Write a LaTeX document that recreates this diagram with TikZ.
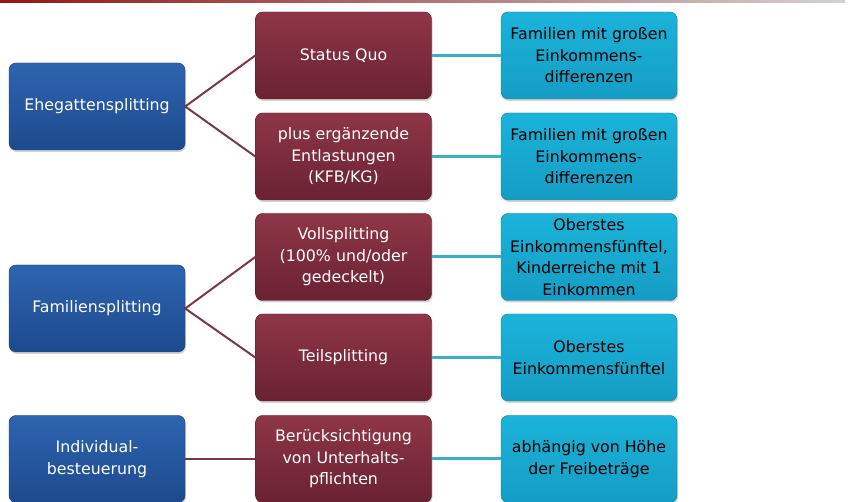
\documentclass[tikz,border=0pt]{standalone}
\usepackage{fontspec}
\setmainfont{DejaVu Sans}
\usetikzlibrary{shadows}
\definecolor{bluetop}{HTML}{2E64B0}
\definecolor{bluebot}{HTML}{1D4A8E}
\definecolor{redtop}{HTML}{8E3647}
\definecolor{redbot}{HTML}{6A2232}
\definecolor{cyantop}{HTML}{1BB3DA}
\definecolor{cyanbot}{HTML}{159DC4}
\definecolor{redline}{HTML}{7E3645}
\definecolor{cyanline}{HTML}{3AAECB}
\definecolor{topred}{HTML}{B01818}
\tikzset{
  box/.style={rounded corners=7pt, minimum width=176pt, minimum height=87pt, align=center,
    inner sep=2pt, font=\fontsize{15.8}{21.5}\selectfont,
    drop shadow={shadow xshift=1pt, shadow yshift=-2pt, opacity=0.35}},
  bluebox/.style={box, top color=bluetop, bottom color=bluebot, draw=bluebot!80!black, text=white},
  redbox/.style={box, top color=redtop, bottom color=redbot, draw=redbot!80!black, text=white},
  cyanbox/.style={box, top color=cyantop, bottom color=cyanbot, draw=cyanbot!80!black, text=black},
  rline/.style={draw=redline, line width=2pt},
  cline/.style={draw=cyanline, line width=3pt},
}
\begin{document}
\begin{tikzpicture}[x=1pt,y=-1pt]
\useasboundingbox (0,0) rectangle (852,502);
\shade[left color=topred!85!black, right color=gray!35] (0,0) rectangle (845,3);
% blue
\node[bluebox] (ehe) at (97,106.5) {Ehegattensplitting};
\node[bluebox] (fam) at (97,308.5) {Familiensplitting};
\node[bluebox] (ind) at (97,459) {Individual-\\besteuerung};
% red
\node[redbox] (sq) at (343.5,55.5) {Status Quo};
\node[redbox] (plus) at (343.5,156.5) {plus ergänzende\\Entlastungen\\(KFB/KG)};
\node[redbox] (voll) at (343.5,257) {Vollsplitting\\(100\% und/oder\\gedeckelt)};
\node[redbox] (teil) at (343.5,357.5) {Teilsplitting};
\node[redbox] (ber) at (343.5,459) {Berücksichtigung\\von Unterhalts-\\pflichten};
% cyan
\node[cyanbox] (c1) at (589,55.5) {Familien mit großen\\Einkommens-\\differenzen};
\node[cyanbox] (c2) at (589,156.5) {Familien mit großen\\Einkommens-\\differenzen};
\node[cyanbox] (c3) at (589,257) {Oberstes\\Einkommensfünftel,\\Kinderreiche mit 1\\Einkommen};
\node[cyanbox] (c4) at (589,357.5) {Oberstes\\Einkommensfünftel};
\node[cyanbox] (c5) at (589,459) {abhängig von Höhe\\der Freibeträge};
% connectors
\draw[rline] (ehe.east) -- (sq.west);
\draw[rline] (ehe.east) -- (plus.west);
\draw[rline] (fam.east) -- (voll.west);
\draw[rline] (fam.east) -- (teil.west);
\draw[rline] (ind.east) -- (ber.west);
\draw[cline] (sq.east) -- (c1.west);
\draw[cline] (plus.east) -- (c2.west);
\draw[cline] (voll.east) -- (c3.west);
\draw[cline] (teil.east) -- (c4.west);
\draw[cline] (ber.east) -- (c5.west);
\end{tikzpicture}
\end{document}
